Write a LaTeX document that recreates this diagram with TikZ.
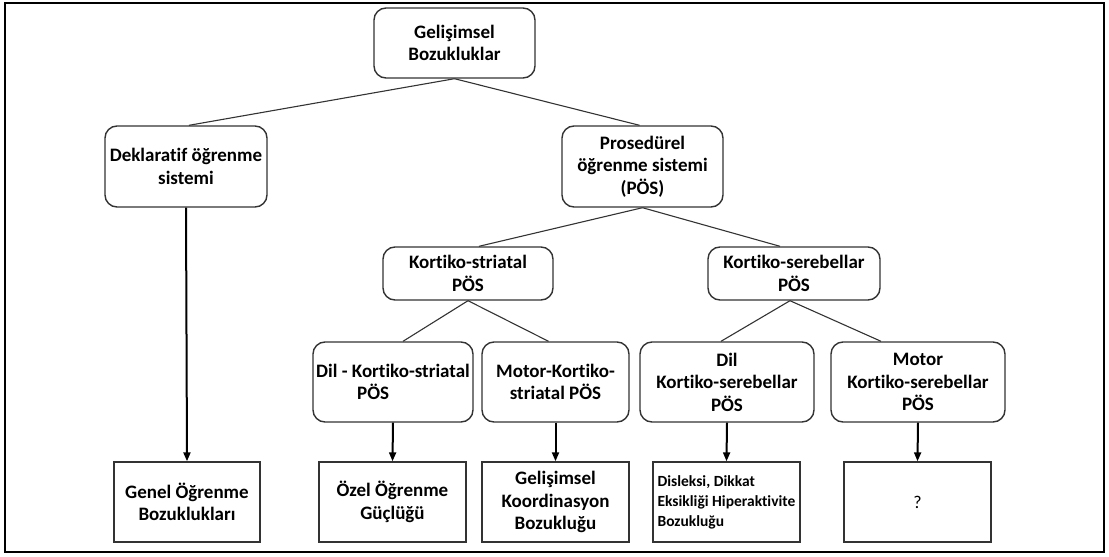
\documentclass[tikz,border=0pt]{standalone}
\usepackage{fontspec}
\setmainfont{Carlito}[Ligatures={NoCommon}]
\usetikzlibrary{arrows.meta,calc}
\definecolor{edge}{HTML}{333333}
\tikzset{
  rbox/.style={draw=edge, line width=1.4pt, rounded corners=12pt, inner sep=0pt, align=center,
    font=\bfseries\fontsize{19}{22.5}\selectfont},
  sbox/.style={draw=edge, line width=1.4pt, inner sep=0pt, align=center,
    font=\bfseries\fontsize{19}{22.5}\selectfont, minimum height=80pt},
  link/.style={draw=edge, line width=1.1pt},
  arr/.style={draw=black, line width=2pt, -{Triangle[length=9pt,width=7pt]}},
}
\begin{document}
\begin{tikzpicture}[x=1pt,y=-1pt]
\useasboundingbox (0,0) rectangle (1109,557);
\draw[line width=2pt] (5,3) rectangle (1104,552);

\node[rbox, minimum width=161pt, minimum height=70pt] (G) at (454.5,43) {Gelişimsel\\Bozukluklar};
\node[rbox, minimum width=162pt, minimum height=81pt] (D) at (186,166.5) {Deklaratif öğrenme\\sistemi};
\node[rbox, minimum width=161pt, minimum height=81pt] (P) at (642.5,166.5) {Prosedürel\\öğrenme sistemi\\(PÖS)};
\node[rbox, minimum width=170pt, minimum height=53pt] (KS) at (468,273.5) {Kortiko-striatal\\PÖS};
\node[rbox, minimum width=172pt, minimum height=53pt] (KC) at (794,273.5) {Kortiko-serebellar\\PÖS};
\node[rbox, minimum width=160pt, minimum height=80pt, align=left] (DKS) at (393,382) {Dil - Kortiko-striatal\\\hspace{41pt}PÖS};
\node[rbox, minimum width=147pt, minimum height=80pt] (MKS) at (555.5,382) {Motor-Kortiko-\\striatal PÖS};
\node[rbox, minimum width=174pt, minimum height=80pt] (DKC) at (727,382) {Dil\\Kortiko-serebellar\\PÖS};
\node[rbox, minimum width=174pt, minimum height=80pt] (MKC) at (918,382) {Motor\\Kortiko-serebellar\\PÖS};

\node[sbox, minimum width=146pt] (GO) at (187,502) {Genel Öğrenme\\Bozuklukları};
\node[sbox, minimum width=147pt] (OO) at (392.5,502) {Özel Öğrenme\\Güçlüğü};
\node[sbox, minimum width=147pt] (GK) at (555.5,502) {Gelişimsel\\Koordinasyon\\Bozukluğu};
\node[sbox, minimum width=147pt, align=left, font=\bfseries\fontsize{15.5}{20}\selectfont] (DS) at (726.5,502) {Disleksi, Dikkat\\Eksikliği Hiperaktivite\\Bozukluğu};
\node[sbox, minimum width=147pt, font=\fontsize{18}{22}\selectfont] (Q) at (917.5,502) {?};

\draw[link] (G.south) -- ([xshift=3pt]D.north);
\draw[link] (G.south) -- ([xshift=-3pt]P.north);
\draw[link] (P.south) -- ([xshift=11pt]KS.north);
\draw[link] (P.south) -- ([xshift=-14pt]KC.north);
\draw[link] (KS.south) -- ([xshift=10pt]DKS.north);
\draw[link] (KS.south) -- ([xshift=-7pt]MKS.north);
\draw[link] ([xshift=-4pt]KC.south) -- ([xshift=-6pt]DKC.north);
\draw[link] ([xshift=-4pt]KC.south) -- ([xshift=-37pt]MKC.north);

\draw[arr] (D.south) -- (GO.north);
\draw[arr] (DKS.south) -- (OO.north);
\draw[arr] (MKS.south) -- (GK.north);
\draw[arr] (DKC.south) -- (DS.north);
\draw[arr] (MKC.south) -- (Q.north);
\end{tikzpicture}
\end{document}
